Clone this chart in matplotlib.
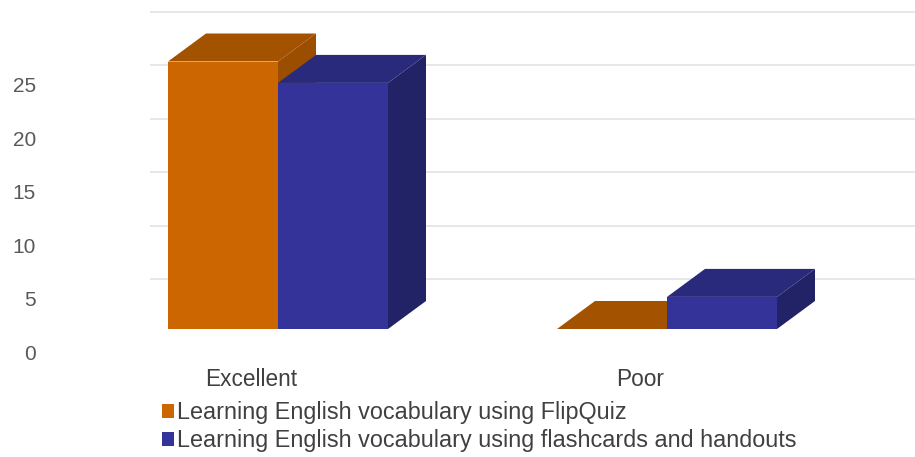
import numpy as np
from matplotlib import pyplot as plt
from matplotlib.patches import Polygon, Patch

## DATA

categories = ['Excellent', 'Poor']
series_names = ['Learning English vocabulary using FlipQuiz',
                'Learning English vocabulary using flashcards and handouts']
flipquiz = [25, 0]
flashcards = [23, 3]
y_ticks = [0, 5, 10, 15, 20, 25]

## STYLE

front_cols = ['#CC6600', '#333399']
top_cols = ['#A35200', '#2A2A7C']
side_cols = ['#9C4E00', '#222266']
text_col = '#595959'

W, H, DPI = 915, 457, 100
# pixel layout of the plot area
left_px, right_px, top_px, bot_px = 150, 915, 0, 362
base_px = 329          # front floor line
px_per_unit = 10.7     # pixels per value unit
group_px = 278         # centre of first category
step_px = 389          # distance between categories
bar_px = 110
dx_px, dy_px = 38, 28  # depth of the 3D boxes

fig = plt.figure(figsize=(W / DPI, H / DPI), dpi=DPI)
ax = fig.add_axes([left_px / W, 1 - bot_px / H,
                   (right_px - left_px) / W, (bot_px - top_px) / H])

bw = bar_px / step_px
ddx = dx_px / step_px
ddy = dy_px / px_per_unit

# gridlines on the back wall
grid_shift = -0.33
for t in y_ticks[1:] + [30]:
    ax.axhline(t + grid_shift, color='#E3E3E3', lw=1.2, zorder=0)

x = np.arange(len(categories))
for k, vals in enumerate([flipquiz, flashcards]):
    xs = x - bw + k * bw
    ax.bar(xs, vals, width=bw, align='edge', color=front_cols[k],
           edgecolor='none', zorder=3 + 2 * k)
    for x0, v in zip(xs, vals):
        top = Polygon([(x0, v), (x0 + bw, v), (x0 + bw + ddx, v + ddy),
                       (x0 + ddx, v + ddy)], closed=True,
                      facecolor=top_cols[k], edgecolor='none', zorder=2 + 2 * k)
        side = Polygon([(x0 + bw, 0), (x0 + bw + ddx, ddy),
                        (x0 + bw + ddx, v + ddy), (x0 + bw, v)], closed=True,
                       facecolor=side_cols[k], edgecolor='none', zorder=2 + 2 * k)
        ax.add_patch(side)
        ax.add_patch(top)

# value axis labels sit lower than the wall gridlines
label_shift = -2.15
ax.set_yticks([t + label_shift for t in y_ticks])
ax.set_yticklabels([str(t) for t in y_ticks])
ax.tick_params(axis='y', length=0, pad=(left_px - 36) * 72 / DPI,
               labelsize=15, labelcolor=text_col)
ax.set_xticks(x - 27 / step_px)
ax.set_xticklabels(categories)
ax.tick_params(axis='x', length=0, pad=(368 - bot_px) * 72 / DPI,
               labelsize=16.3, labelcolor='#404040')
# limits last, so the shifted ticks do not widen them
ax.set_xlim((left_px - group_px) / step_px, (right_px - group_px) / step_px)
ax.set_ylim((base_px - bot_px) / px_per_unit, (base_px - top_px) / px_per_unit)
for s in ax.spines.values():
    s.set_visible(False)
for lab in ax.get_yticklabels() + ax.get_xticklabels():
    lab.set_family('Liberation Sans')

handles = [Patch(facecolor=front_cols[0]), Patch(facecolor=front_cols[1])]
fig.legend(handles, series_names, loc='upper left',
           bbox_to_anchor=(162 / W, 1 - 401 / H), frameon=False,
           handlelength=0.52, handleheight=0.52, handletextpad=0.12,
           labelspacing=0.22, borderpad=0, borderaxespad=0,
           prop={'family': 'Liberation Sans', 'size': 16.8}, labelcolor='#404040')

fig.savefig('out.png', dpi=DPI)
